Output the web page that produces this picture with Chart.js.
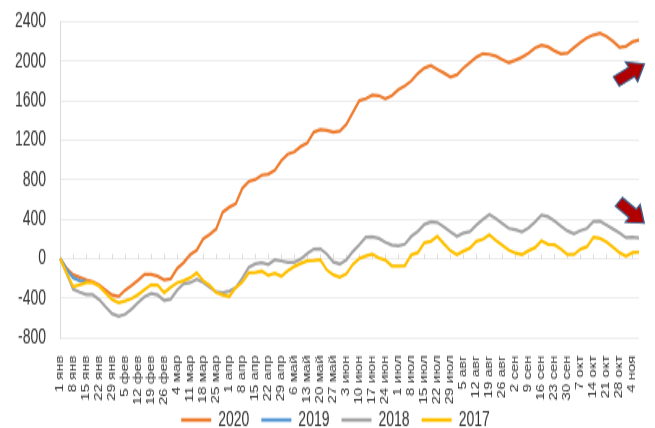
<!DOCTYPE html>
<html>
<head>
<meta charset="utf-8">
<script src="https://cdn.jsdelivr.net/npm/chart.js@4"></script>
<style>
  html, body { margin: 0; padding: 0; background: #fff; }
  body { width: 655px; height: 428px; overflow: hidden; position: relative; }
  /* the source picture is stretched vertically, so draw flat and stretch */
  #chart { position: absolute; left: 0; top: 0; display: block;
           transform: translateY(-12px) scaleY(1.5); transform-origin: 0 0; }
</style>
</head>
<body>
<canvas id="chart" width="655" height="294"></canvas>
<script>
const weekLabels = [
  "1 янв", "8 янв", "15 янв", "22 янв", "29 янв", "5 фев", "12 фев", "19 фев", "26 фев",
  "4 мар", "11 мар", "18 мар", "25 мар", "1 апр", "8 апр", "15 апр", "22 апр", "29 апр",
  "6 май", "13 май", "20 май", "27 май", "3 июн", "10 июн", "17 июн", "24 июн",
  "1 июл", "8 июл", "15 июл", "22 июл", "29 июл", "5 авг", "12 авг", "19 авг", "26 авг",
  "2 сен", "9 сен", "16 сен", "23 сен", "30 сен", "7 окт", "14 окт", "21 окт", "28 окт", "4 ноя"
];

// two readings per week
const y2020 = [
  0, -100, -165, -190, -215, -235, -270, -320, -370, -385,
  -320, -272, -220, -160, -160, -180, -215, -205, -100, -40,
  40, 85, 200, 245, 300, 470, 520, 555, 710, 780,
  800, 845, 855, 895, 990, 1058, 1080, 1135, 1170, 1280,
  1305, 1300, 1280, 1290, 1360, 1480, 1600, 1620, 1655, 1650,
  1620, 1650, 1710, 1750, 1800, 1875, 1930, 1955, 1915, 1880,
  1840, 1860, 1930, 1985, 2040, 2075, 2068, 2050, 2015, 1985,
  2010, 2040, 2080, 2132, 2160, 2145, 2105, 2075, 2080, 2135,
  2190, 2235, 2265, 2282, 2250, 2200, 2140, 2150, 2195, 2215
];
const y2019 = [0, -110, -195, -225, -235];
const y2018 = [
  0, -150, -310, -340, -365, -365, -415, -490, -560, -585,
  -565, -510, -445, -385, -355, -370, -425, -410, -320, -255,
  -245, -210, -240, -290, -340, -345, -330, -295, -200, -88,
  -55, -42, -60, -12, -25, -40, -38, -5, 50, 95,
  100, 45, -35, -55, -15, 70, 140, 215, 220, 205,
  165, 138, 128, 145, 225, 275, 345, 370, 365, 320,
  272, 225, 258, 272, 340, 395, 445, 405, 355, 305,
  292, 270, 310, 370, 440, 425, 380, 330, 280, 250,
  283, 305, 375, 378, 340, 300, 260, 212, 215, 210
];
const y2017 = [
  0, -150, -285, -265, -245, -245, -280, -350, -415, -448,
  -430, -405, -365, -315, -265, -270, -345, -290, -245, -225,
  -195, -145, -225, -270, -345, -370, -385, -295, -240, -145,
  -140, -128, -170, -150, -180, -125, -80, -50, -22, -20,
  -12, -115, -165, -190, -155, -60, 0, 25, 45, 5,
  -15, -75, -75, -72, 38, 60, 160, 175, 225, 150,
  80, 38, 75, 105, 175, 195, 240, 185, 135, 85,
  55, 40, 80, 110, 180, 145, 140, 95, 40, 40,
  95, 120, 215, 205, 170, 115, 60, 25, 60, 65
];

const labels = weekLabels.flatMap(w => [w, ""]);
const STRETCH = 1.5;
const FONT = "Liberation Sans, Arial, sans-serif";

const series = [
  { label: "2020", data: y2020, color: "#ED7D31", order: 4 },
  { label: "2019", data: y2019, color: "#5B9BD5", order: 3 },
  { label: "2018", data: y2018, color: "#A5A5A5", order: 2 },
  { label: "2017", data: y2017, color: "#FFC000", order: 1 }
];

// red block arrows, placed by category index and value
const arrows = [
  { idx: 87.6, value: 1880, angle: -32 },
  { idx: 87.8, value: 470, angle: 40 }
];

const zeroTicks = {
  id: "zeroTicks",
  beforeDatasetsDraw(chart) {
    const { ctx, scales: { x, y } } = chart;
    const y0 = Math.round(y.getPixelForValue(0)) + 0.5;
    ctx.save();
    ctx.strokeStyle = "#d9d9d9";
    ctx.lineWidth = 1;
    ctx.beginPath();
    for (let i = 0; i < labels.length; i += 2) {
      const px = Math.round(x.getPixelForValue(i)) + 0.5;
      ctx.moveTo(px, y0);
      ctx.lineTo(px, y0 - 3);
    }
    ctx.stroke();
    ctx.restore();
  }
};

const arrowMarks = {
  id: "arrowMarks",
  afterDatasetsDraw(chart) {
    const { ctx, scales: { x, y } } = chart;
    arrows.forEach(a => {
      ctx.save();
      ctx.translate(x.getPixelForValue(a.idx), y.getPixelForValue(a.value));
      ctx.scale(1, 1 / STRETCH);
      ctx.rotate(a.angle * Math.PI / 180);
      ctx.beginPath();
      ctx.moveTo(-16, -5.5);
      ctx.lineTo(2, -5.5);
      ctx.lineTo(2, -11.5);
      ctx.lineTo(17, 0);
      ctx.lineTo(2, 11.5);
      ctx.lineTo(2, 5.5);
      ctx.lineTo(-16, 5.5);
      ctx.closePath();
      ctx.fillStyle = "#B00000";
      ctx.fill();
      ctx.lineWidth = 1.5;
      ctx.strokeStyle = "#3B5E8C";
      ctx.stroke();
      ctx.restore();
    });
  }
};

// nudge the legend row a little to the right, as in the source
const legendShift = {
  id: "legendShift",
  afterLayout(chart) {
    chart.legend.left += 11;
    chart.legend.right += 11;
  }
};

new Chart(document.getElementById("chart"), {
  type: "line",
  data: {
    labels: labels,
    datasets: series.map(s => ({
      label: s.label,
      data: s.data,
      borderColor: s.color,
      backgroundColor: s.color,
      borderWidth: 2.25,
      pointRadius: 0,
      tension: 0,
      order: s.order
    }))
  },
  options: {
    responsive: false,
    animation: false,
    devicePixelRatio: 1,
    layout: { padding: { left: 1, right: 7, top: 0, bottom: -11 } },
    scales: {
      x: {
        offset: false,
        grid: { display: false },
        border: { display: false },
        afterFit: axis => {
          axis.height = 36;
          // labels run past the shortened box, so do not clip them
          axis._computeLabelArea = () => undefined;
        },
        ticks: {
          autoSkip: false,
          maxRotation: 90,
          minRotation: 90,
          padding: 4,
          color: "#333333",
          font: { family: FONT, size: 10 }
        }
      },
      y: {
        min: -800,
        max: 2400,
        grid: { color: "#ececec", drawTicks: false },
        border: { color: "#d9d9d9" },
        ticks: {
          stepSize: 400,
          padding: 14,
          color: "#333333",
          font: { family: FONT, size: 14 },
          callback: v => String(v)
        }
      }
    },
    plugins: {
      tooltip: { enabled: false },
      legend: {
        position: "bottom",
        labels: {
          boxWidth: 30,
          boxHeight: 2.5,
          padding: 12,
          color: "#333333",
          font: { family: FONT, size: 14 },
          sort: (a, b) => a.datasetIndex - b.datasetIndex,
          generateLabels: chart =>
            Chart.defaults.plugins.legend.labels.generateLabels(chart).map(l => ({ ...l, lineWidth: 0 }))
        }
      }
    }
  },
  plugins: [zeroTicks, arrowMarks, legendShift]
});
</script>
</body>
</html>
